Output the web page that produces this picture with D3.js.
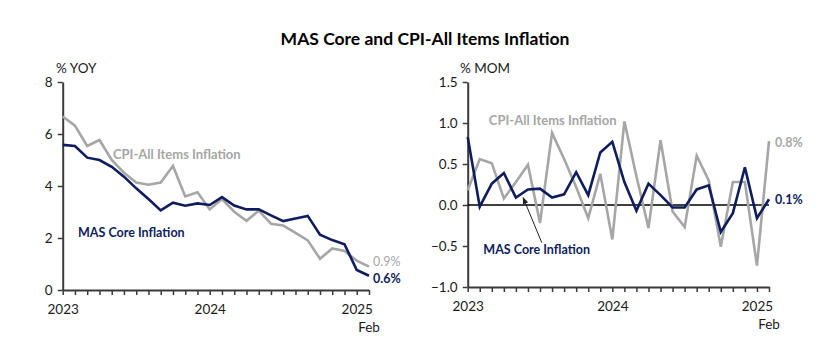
<!DOCTYPE html>
<html lang="en"><head>
<meta charset="utf-8">
<title>MAS Core and CPI-All Items Inflation</title>
<script src="https://cdn.jsdelivr.net/npm/d3@7"></script>
<style>
  body { margin: 0; background: #fff; }
  text { font-family: Lato, "Open Sans", sans-serif; }
</style>
</head>
<body>
<script type="text/javascript">

// monthly observations, Jan 2023 .. Feb 2025
var months = ["2023-01","2023-02","2023-03","2023-04","2023-05","2023-06","2023-07","2023-08","2023-09","2023-10","2023-11","2023-12",
              "2024-01","2024-02","2024-03","2024-04","2024-05","2024-06","2024-07","2024-08","2024-09","2024-10","2024-11","2024-12",
              "2025-01","2025-02"];

var yoyCore = [5.58, 5.54, 5.09, 5.0, 4.74, 4.36, 3.91, 3.5, 3.06, 3.36, 3.24, 3.33,
               3.27, 3.57, 3.25, 3.1, 3.1, 2.87, 2.65, 2.75, 2.85, 2.13, 1.92, 1.76,
               0.77, 0.55];
var yoyAll  = [6.67, 6.32, 5.54, 5.77, 5.0, 4.51, 4.13, 4.05, 4.13, 4.77, 3.6, 3.76,
               3.1, 3.5, 3.01, 2.66, 3.05, 2.55, 2.48, 2.2, 1.91, 1.2, 1.6, 1.5,
               1.13, 0.9];

var momCore = [0.83, -0.02, 0.26, 0.39, 0.09, 0.19, 0.20, 0.09, 0.13, 0.40, 0.12, 0.64,
               0.77, 0.28, -0.07, 0.26, 0.12, -0.03, -0.03, 0.19, 0.24, -0.33, -0.10, 0.46,
               -0.16, 0.07];
var momAll  = [0.18, 0.56, 0.51, 0.08, 0.28, 0.49, -0.22, 0.88, 0.56, 0.22, -0.16, 0.38,
               -0.42, 1.02, 0.35, -0.28, 0.79, -0.08, -0.27, 0.60, 0.30, -0.51, 0.28, 0.28,
               -0.74, 0.78];

var yoyTicks = [0, 2, 4, 6, 8];
var momTicks = [-1.0, -0.5, 0.0, 0.5, 1.0, 1.5];
var yearTicks = {0: "2023", 12: "2024", 24: "2025"};

var navy = "#0f1d5e";
var grey = "#a6a6a6";
var axisCol = "#3a3a3a";

var width = 820, height = 350;

var svg = d3.select("body").append("svg")
    .attr("width", width)
    .attr("height", height);

svg.append("defs").append("marker")
    .attr("id", "arrow")
    .attr("viewBox", "0 0 10 10")
    .attr("refX", 9).attr("refY", 5)
    .attr("markerWidth", 7).attr("markerHeight", 7)
    .attr("orient", "auto-start-reverse")
    .append("path")
    .attr("d", "M0,1 L10,5 L0,9 z")
    .attr("fill", "#222");

svg.append("text")
    .attr("x", 425).attr("y", 45)
    .attr("text-anchor", "middle")
    .attr("font-size", 17.5)
    .attr("font-weight", "bold")
    .attr("fill", "#000")
    .text("MAS Core and CPI-All Items Inflation");

// draws one panel, returns its scales
function panel(opt) {
    var x = d3.scaleLinear().domain([0, months.length - 1]).range(opt.xr);
    var y = d3.scaleLinear().domain(opt.yd).range(opt.yr);
    var g = svg.append("g");

    var xAxis = d3.axisBottom(x)
        .tickValues(d3.range(months.length))
        .tickSize(5).tickSizeOuter(0).tickPadding(9)
        .tickFormat((d) => yearTicks[d] || "");
    var xg = g.append("g").attr("transform", "translate(0," + opt.yr[0] + ")").call(xAxis);

    var yAxis = d3.axisLeft(y)
        .tickValues(opt.ticks)
        .tickSize(5).tickSizeOuter(0).tickPadding(5)
        .tickFormat(opt.fmt);
    var yg = g.append("g").attr("transform", "translate(" + opt.xr[0] + ",0)").call(yAxis);

    [xg, yg].forEach((a) => {
        a.select(".domain").attr("stroke", axisCol).attr("stroke-width", 2);
        a.selectAll(".tick line").attr("stroke", axisCol).attr("stroke-width", 1.5);
        a.selectAll("text").attr("font-size", 13.5).attr("fill", "#1a1a1a")
            .style("font-family", "Lato, sans-serif");
    });

    g.append("text")
        .attr("x", x(months.length - 1)).attr("y", opt.yr[0] + 42)
        .attr("text-anchor", "middle").attr("font-size", 13.5).attr("fill", "#1a1a1a")
        .text("Feb");

    g.append("text")
        .attr("x", opt.unitX).attr("y", 73)
        .attr("font-size", 13.5).attr("fill", "#1a1a1a")
        .text(opt.unit);

    var line = d3.line().x((d, i) => x(i)).y((d) => y(d));
    opt.series.forEach((s) => {
        g.append("path")
            .datum(s.values)
            .attr("d", line)
            .attr("fill", "none")
            .attr("stroke", s.color)
            .attr("stroke-width", 2.6)
            .attr("stroke-linejoin", "miter");
    });
    return {x: x, y: y, g: g};
}

// left: year-on-year
var left = panel({
    xr: [62.7, 369], yr: [290, 82], yd: [0, 8],
    ticks: yoyTicks, fmt: d3.format("d"),
    unit: "% YOY", unitX: 56,
    series: [{values: yoyAll, color: grey}, {values: yoyCore, color: navy}]
});

left.g.append("text")
    .attr("x", left.x(4.1)).attr("y", left.y(5.02))
    .attr("font-size", 13).attr("font-weight", "bold").attr("fill", grey)
    .text("CPI-All Items Inflation");
left.g.append("text")
    .attr("x", left.x(1.25)).attr("y", left.y(2.05))
    .attr("font-size", 12.5).attr("font-weight", "bold").attr("fill", navy)
    .text("MAS Core Inflation");
left.g.append("text")
    .attr("x", left.x(25) + 4).attr("y", left.y(yoyAll[25]) - 1)
    .attr("font-size", 12.5).attr("fill", grey)
    .text(d3.format(".1f")(yoyAll[25]) + "%");
left.g.append("text")
    .attr("x", left.x(25) + 4).attr("y", left.y(yoyCore[25]) + 7)
    .attr("font-size", 12.5).attr("font-weight", "bold").attr("fill", navy)
    .text(d3.format(".1f")(yoyCore[25]) + "%");

// right: month-on-month
var right = panel({
    xr: [467.7, 769], yr: [287, 82], yd: [-1, 1.5],
    ticks: momTicks, fmt: d3.format(".1f"),
    unit: "% MOM", unitX: 460,
    series: []
});

right.g.append("line")
    .attr("x1", right.x(0)).attr("x2", right.x(25))
    .attr("y1", right.y(0)).attr("y2", right.y(0))
    .attr("stroke", "#000").attr("stroke-width", 1.3);

var mline = d3.line().x((d, i) => right.x(i)).y((d) => right.y(d));
[{values: momAll, color: grey}, {values: momCore, color: navy}].forEach((s) => {
    right.g.append("path")
        .datum(s.values)
        .attr("d", mline)
        .attr("fill", "none")
        .attr("stroke", s.color)
        .attr("stroke-width", 2.6);
});

right.g.append("text")
    .attr("x", right.x(1.75)).attr("y", right.y(0.98))
    .attr("font-size", 13).attr("font-weight", "bold").attr("fill", grey)
    .text("CPI-All Items Inflation");
right.g.append("text")
    .attr("x", right.x(1.3)).attr("y", right.y(-0.6))
    .attr("font-size", 12.5).attr("font-weight", "bold").attr("fill", navy)
    .text("MAS Core Inflation");
right.g.append("line")
    .attr("x1", right.x(6.15)).attr("y1", right.y(-0.46))
    .attr("x2", right.x(4.6)).attr("y2", right.y(0.09))
    .attr("stroke", "#222").attr("stroke-width", 1)
    .attr("marker-end", "url(#arrow)");
right.g.append("text")
    .attr("x", right.x(25) + 6).attr("y", right.y(momAll[25]) + 6)
    .attr("font-size", 12.5).attr("font-weight", "bold").attr("fill", grey)
    .text(d3.format(".1f")(momAll[25]) + "%");
right.g.append("text")
    .attr("x", right.x(25) + 6).attr("y", right.y(momCore[25]) + 5)
    .attr("font-size", 12.5).attr("font-weight", "bold").attr("fill", navy)
    .text(d3.format(".1f")(momCore[25]) + "%");

</script>
</body></html>
